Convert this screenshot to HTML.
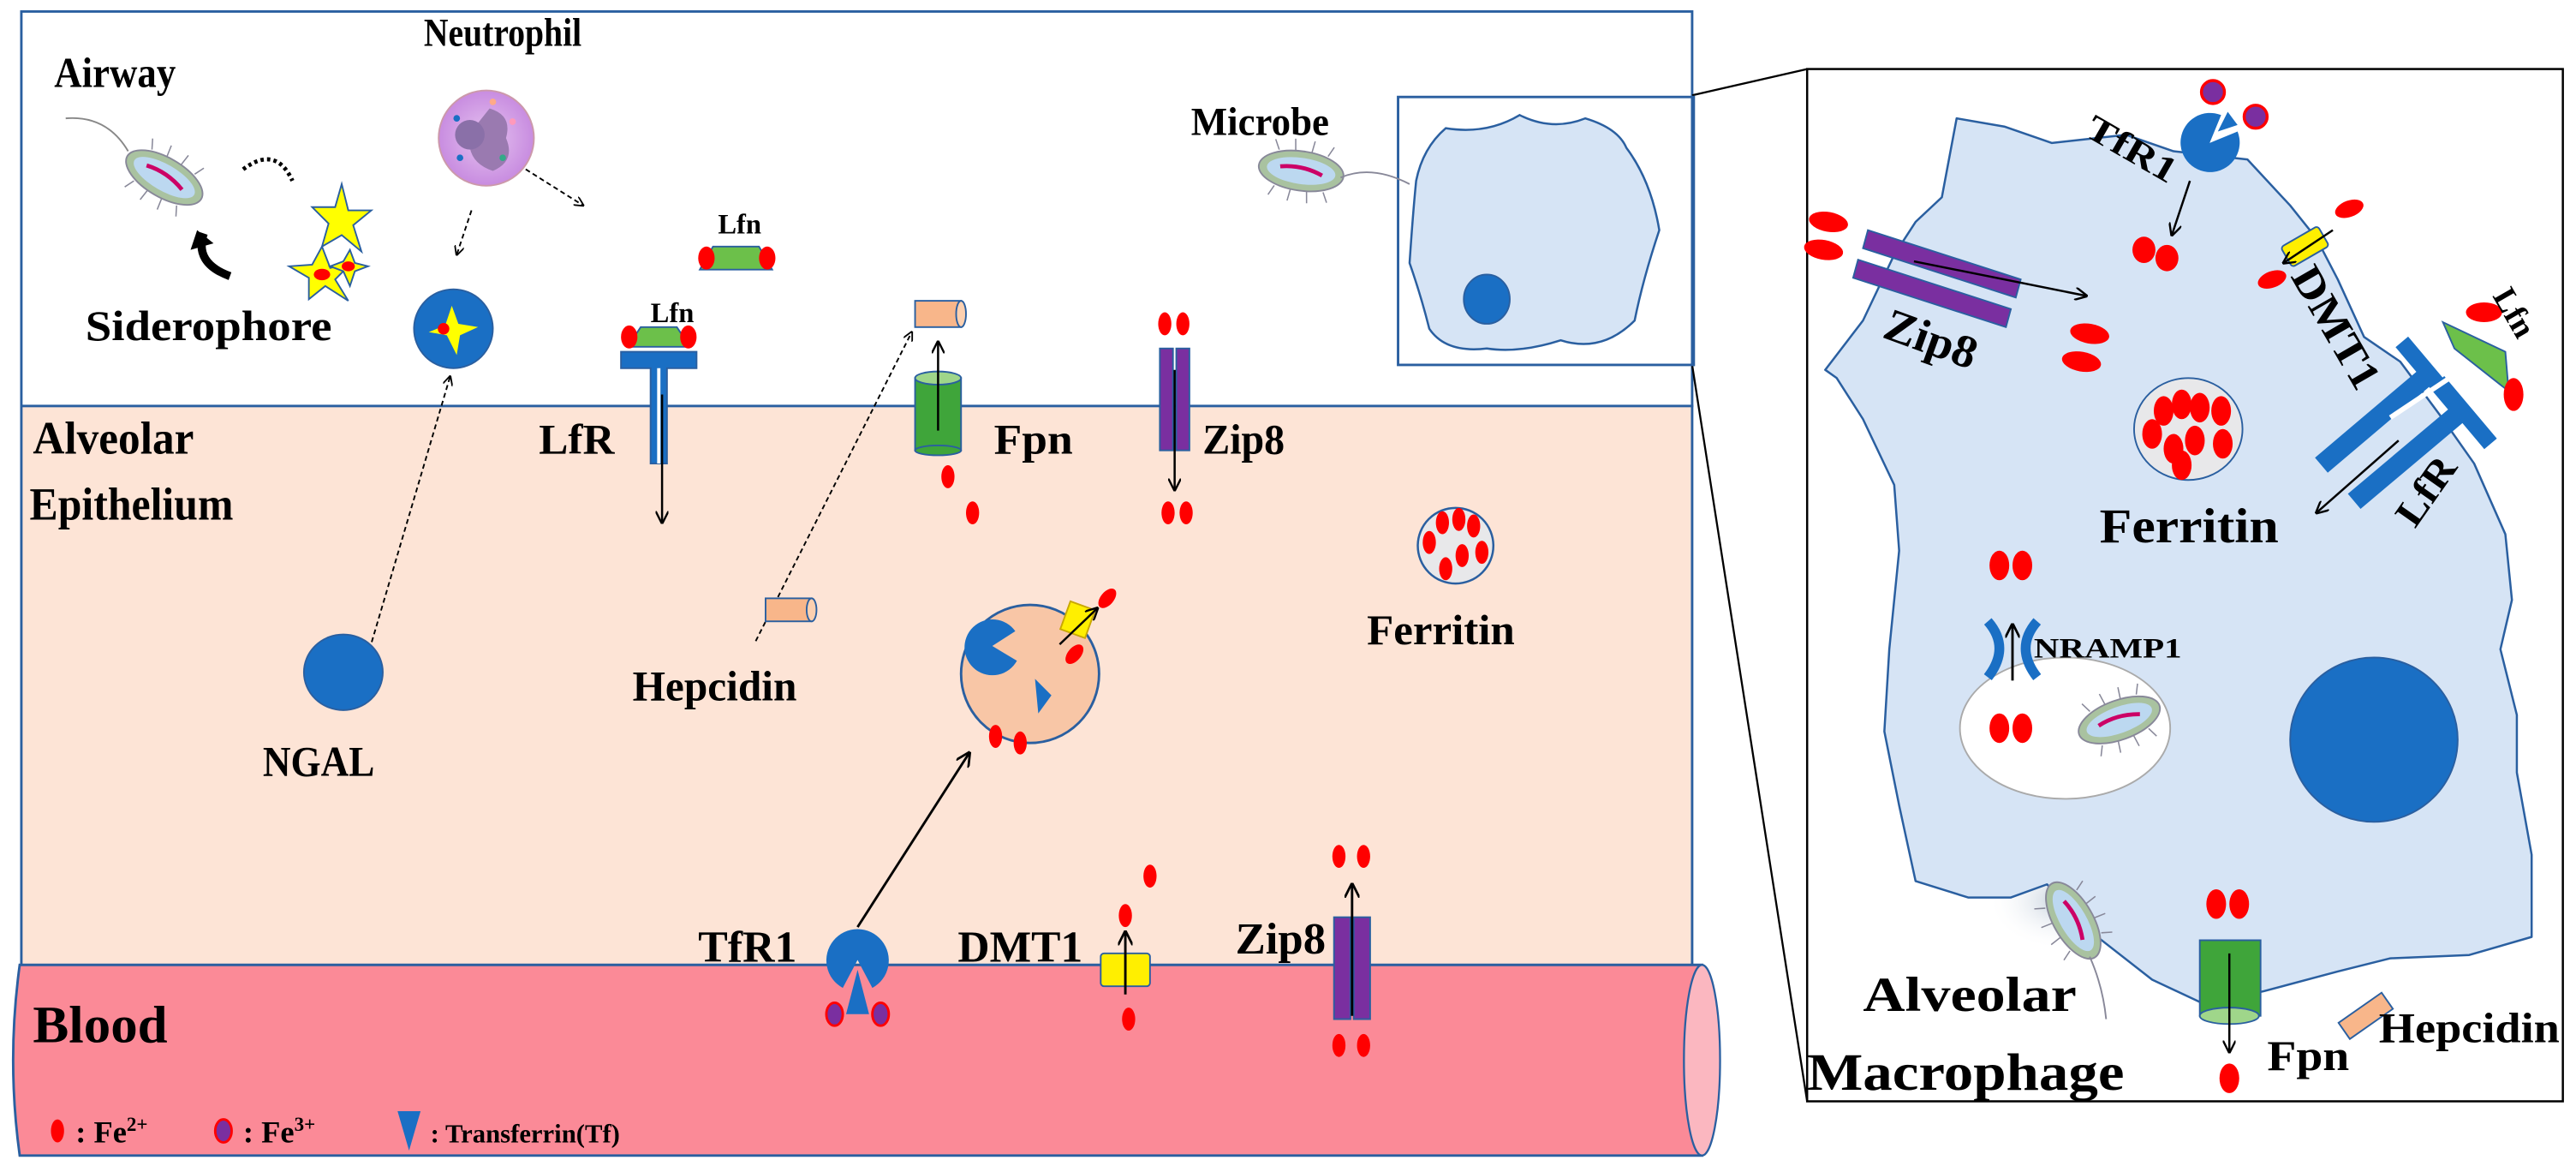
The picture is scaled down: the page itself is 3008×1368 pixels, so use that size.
<!DOCTYPE html>
<html><head><meta charset="utf-8"><style>
html,body{margin:0;padding:0;background:#fff;}
svg{display:block;}
text{font-family:"Liberation Serif",serif;font-weight:bold;fill:#000;}
</style></head><body>
<svg width="3008" height="1368" viewBox="0 0 1568 713" preserveAspectRatio="none" xmlns="http://www.w3.org/2000/svg">
<defs>
<marker id="ah" viewBox="0 0 10 10" refX="9" refY="5" markerWidth="6" markerHeight="6" orient="auto"><path d="M0,0 L10,5 L0,10" fill="none" stroke="#000" stroke-width="1.6"/></marker>
<g id="fe"><ellipse cx="0" cy="0" rx="4" ry="7" fill="#f00"/></g>
<g id="feb"><ellipse cx="0" cy="0" rx="6" ry="9" fill="#f00"/></g>
<g id="fe3"><ellipse cx="0" cy="0" rx="5" ry="7" fill="#7a2fa0" stroke="#f00" stroke-width="1.5"/></g>
<g id="bac"><ellipse cx="0" cy="0" rx="26" ry="12" fill="#a9c2a0" stroke="#889" stroke-width="1"/><ellipse cx="0" cy="0" rx="21" ry="8" fill="#bcd8f0"/><path d="M-13,-1 Q0,-4 13,1" stroke="#c06" stroke-width="2.5" fill="none"/>
<path d="M-15,-11 l-3,-6 M-5,-12 l-1,-7 M5,-12 l1,-7 M15,-11 l3,-6 M-15,11 l-3,6 M-5,12 l-1,7 M5,12 l1,7 M15,11 l3,6" stroke="#889" stroke-width="0.8"/></g>
<radialGradient id="neu" cx="0.5" cy="0.5" r="0.5"><stop offset="0" stop-color="#e6c4f0"/><stop offset="1" stop-color="#c88ce0"/></radialGradient>
<radialGradient id="shade" cx="0.5" cy="0.5" r="0.5"><stop offset="0" stop-color="#c4cfdc"/><stop offset="1" stop-color="#fff" stop-opacity="0"/></radialGradient>
</defs>
<rect x="13" y="7" width="1017" height="240" fill="#fff" stroke="#2a5fa0" stroke-width="1.5"/>
<rect x="13" y="247" width="1017" height="345" fill="#fde4d6" stroke="#2a5fa0" stroke-width="1.5"/>
<path d="M12,587 L1036,587 L1036,703 L12,703 Q4,645 12,587Z" fill="#fb8a97" stroke="#2a5fa0" stroke-width="1.5"/>
<ellipse cx="1036" cy="645" rx="11" ry="58" fill="#fbb7c0" stroke="#2a5fa0" stroke-width="1.2"/>

<line x1="1030" y1="58" x2="1100" y2="42" stroke="#000" stroke-width="1.2"/>
<line x1="1030" y1="222" x2="1100" y2="670" stroke="#000" stroke-width="1.2"/>
<rect x="851" y="59" width="180" height="163" fill="none" stroke="#2a5fa0" stroke-width="1.5"/>
<path d="M880,78 Q905,82 925,70 Q945,80 965,72 Q985,78 990,90 Q1005,110 1010,140 Q1000,170 995,195 Q975,215 950,207 Q925,215 905,212 Q880,215 870,200 Q865,180 858,160 Q860,130 862,110 Q866,90 880,78Z" fill="#d6e4f5" stroke="#2a5fa0" stroke-width="1.3"/>
<ellipse cx="905" cy="182" rx="14" ry="15" fill="#1a6fc4" stroke="#2a5fa0"/>
<use href="#bac" x="792" y="104" transform="rotate(8 792 104)"/>
<path d="M816,108 Q835,100 858,112" stroke="#889" fill="none"/>
<text x="725" y="82" font-size="24" textLength="84" lengthAdjust="spacingAndGlyphs">Microbe</text>

<text x="33" y="53" font-size="26" textLength="74" lengthAdjust="spacingAndGlyphs">Airway</text>
<use href="#bac" x="100" y="108" transform="rotate(30 100 108)"/>
<path d="M78,92 Q65,70 40,72" stroke="#888" fill="none"/>
<path d="M148,103 Q168,88 178,110" stroke="#000" stroke-dasharray="2,2" fill="none" stroke-width="2.5"/>
<path d="M140,168 Q118,160 124,142" stroke="#000" fill="none" stroke-width="5"/>
<polygon points="120,140 130,148 116,152" fill="#000"/>
<polygon points="208,112 212,128 226,128 215,137 220,153 208,143 196,150 200,136 190,126 204,126" fill="#ff0" stroke="#2a5fa0"/>
<polygon points="196,150 201,163 214,160 204,170 212,183 198,174 188,182 188,169 176,162 190,161" fill="#ff0" stroke="#2a5fa0"/>
<ellipse cx="196" cy="167" rx="5" ry="3.5" fill="#f00"/>
<polygon points="213,152 216,160 224,162 216,165 213,174 209,165 201,162 209,159" fill="#ff0" stroke="#2a5fa0"/>
<ellipse cx="212" cy="162" rx="4" ry="3" fill="#f00"/>
<text x="52" y="207" font-size="26" textLength="150" lengthAdjust="spacingAndGlyphs">Siderophore</text>
<text x="258" y="28" font-size="24" textLength="96" lengthAdjust="spacingAndGlyphs">Neutrophil</text>
<circle cx="296" cy="84" r="29" fill="url(#neu)" stroke="#c9a"/>
<path d="M298,66 Q312,70 308,84 Q314,98 300,104 Q288,100 286,90 Q280,80 290,76Z" fill="#9a7ab0"/>
<circle cx="286" cy="82" r="9" fill="#8a70a8"/>
<circle cx="278" cy="72" r="2" fill="#1a6fc4"/><circle cx="306" cy="96" r="2" fill="#3a8"/><circle cx="312" cy="74" r="2" fill="#f9b"/><circle cx="280" cy="96" r="2" fill="#1a6fc4"/><circle cx="300" cy="62" r="2" fill="#fa8"/>
<line x1="320" y1="103" x2="355" y2="125" stroke="#000" stroke-dasharray="3,2" marker-end="url(#ah)"/>
<line x1="287" y1="128" x2="278" y2="155" stroke="#000" stroke-dasharray="3,2" marker-end="url(#ah)"/>
<text x="437" y="142" font-size="17">Lfn</text>
<path d="M434,150 L462,150 L470,164 L426,164Z" fill="#6cc04a" stroke="#2a5fa0"/>
<ellipse cx="430" cy="157" rx="5" ry="7" fill="#f00"/><ellipse cx="467" cy="157" rx="5" ry="7" fill="#f00"/>
<circle cx="276" cy="200" r="24" fill="#1a6fc4" stroke="#2a5fa0"/>
<polygon points="275,186 279,197 291,199 280,204 278,216 272,204 261,202 271,198" fill="#ff0"/>
<circle cx="270" cy="200" r="3.5" fill="#f00"/>
<text x="396" y="196" font-size="17">Lfn</text>
<path d="M390,199 L412,199 L420,211 L382,211Z" fill="#6cc04a" stroke="#2a5fa0"/>
<ellipse cx="383" cy="205" rx="5" ry="7" fill="#f00"/><ellipse cx="419" cy="205" rx="5" ry="7" fill="#f00"/>
<path d="M378,214 L424,214 L424,224 L406,224 L406,282 L396,282 L396,224 L378,224Z" fill="#1a6fc4" stroke="#2a5fa0"/>
<line x1="401" y1="224" x2="401" y2="282" stroke="#fff" stroke-width="2"/>
<line x1="403" y1="240" x2="403" y2="318" stroke="#000" stroke-width="1.3" marker-end="url(#ah)"/>
<text x="328" y="276" font-size="26" textLength="46" lengthAdjust="spacingAndGlyphs">LfR</text>
<text x="20" y="276" font-size="28" textLength="98" lengthAdjust="spacingAndGlyphs">Alveolar</text>
<text x="18" y="316" font-size="28" textLength="124" lengthAdjust="spacingAndGlyphs">Epithelium</text>
<rect x="557" y="183" width="28" height="16" fill="#f8b68a" stroke="#2a5fa0"/>
<ellipse cx="585" cy="191" rx="3" ry="8" fill="#fcd0b0" stroke="#2a5fa0"/>
<rect x="557" y="230" width="28" height="44" fill="#3fa53a" stroke="#2a5fa0"/>
<ellipse cx="571" cy="230" rx="14" ry="4" fill="#9fd68a" stroke="#2a5fa0"/>
<ellipse cx="571" cy="274" rx="14" ry="3" fill="#3fa53a" stroke="#2a5fa0"/>
<line x1="571" y1="262" x2="571" y2="208" stroke="#000" stroke-width="1.3" marker-end="url(#ah)"/>
<text x="605" y="276" font-size="26" textLength="48" lengthAdjust="spacingAndGlyphs">Fpn</text>
<use href="#fe" x="577" y="290"/><use href="#fe" x="592" y="312"/>
<line x1="460" y1="390" x2="555" y2="202" stroke="#000" stroke-dasharray="3,2" marker-end="url(#ah)"/>
<line x1="222" y1="405" x2="274" y2="229" stroke="#000" stroke-dasharray="3,2" marker-end="url(#ah)"/>
<use href="#fe" x="709" y="197"/><use href="#fe" x="720" y="197"/>
<rect x="706" y="212" width="8" height="62" fill="#7a2fa0" stroke="#2a5fa0"/>
<rect x="716" y="212" width="8" height="62" fill="#7a2fa0" stroke="#2a5fa0"/>
<line x1="715" y1="225" x2="715" y2="298" stroke="#000" stroke-width="1.3" marker-end="url(#ah)"/>
<text x="732" y="276" font-size="26" textLength="50" lengthAdjust="spacingAndGlyphs">Zip8</text>
<use href="#fe" x="711" y="312"/><use href="#fe" x="722" y="312"/>
<circle cx="886" cy="332" r="23" fill="#e8e8ea" stroke="#2a5fa0" stroke-width="1.3"/>
<use href="#fe" x="878" y="318"/><use href="#fe" x="888" y="316"/><use href="#fe" x="897" y="320"/><use href="#fe" x="870" y="330"/><use href="#fe" x="890" y="338"/><use href="#fe" x="902" y="336"/><use href="#fe" x="880" y="346"/>
<text x="832" y="392" font-size="26" textLength="90" lengthAdjust="spacingAndGlyphs">Ferritin</text>
<rect x="466" y="364" width="28" height="14" fill="#f8b68a" stroke="#2a5fa0"/>
<ellipse cx="494" cy="371" rx="3" ry="7" fill="#fcd0b0" stroke="#2a5fa0"/>
<text x="385" y="426" font-size="26" textLength="100" lengthAdjust="spacingAndGlyphs">Hepcidin</text>
<ellipse cx="209" cy="409" rx="24" ry="23" fill="#1a6fc4" stroke="#2a5fa0"/>
<text x="160" y="472" font-size="26" textLength="68" lengthAdjust="spacingAndGlyphs">NGAL</text>
<circle cx="627" cy="410" r="42" fill="#f8c6a6" stroke="#2a5fa0" stroke-width="1.5"/>
<path d="M604,393 L618,384 A17,17 0 1 0 619,402 Z" fill="#1a6fc4"/>
<polygon points="630,413 640,423 632,434" fill="#1a6fc4"/>
<rect x="648" y="368" width="16" height="18" fill="#ffef00" stroke="#c9a800" transform="rotate(20 656 377)"/>
<line x1="645" y1="392" x2="668" y2="370" stroke="#000" stroke-width="1.3" marker-end="url(#ah)"/>
<ellipse cx="674" cy="364" rx="4" ry="7" fill="#f00" transform="rotate(40 674 364)"/>
<ellipse cx="654" cy="398" rx="4" ry="7" fill="#f00" transform="rotate(40 654 398)"/>
<use href="#fe" x="606" y="448"/><use href="#fe" x="621" y="452"/>
<!-- bottom transporters -->
<line x1="522" y1="564" x2="590" y2="458" stroke="#000" stroke-width="1.5" marker-end="url(#ah)"/>
<text x="425" y="585" font-size="27" textLength="60" lengthAdjust="spacingAndGlyphs">TfR1</text>
<path d="M522,584 L531,601 A19,19 0 1 0 513,601 Z" fill="#1a6fc4"/>
<polygon points="522,590 529,617 515,617" fill="#1a6fc4"/>
<use href="#fe3" x="508" y="617"/><use href="#fe3" x="536" y="617"/>
<text x="583" y="585" font-size="27" textLength="76" lengthAdjust="spacingAndGlyphs">DMT1</text>
<rect x="670" y="580" width="30" height="20" rx="2" fill="#ffef00" stroke="#2a5fa0"/>
<line x1="685" y1="605" x2="685" y2="567" stroke="#000" stroke-width="1.5" marker-end="url(#ah)"/>
<use href="#fe" x="700" y="533"/><use href="#fe" x="685" y="557"/><use href="#fe" x="687" y="620"/>
<text x="752" y="580" font-size="27" textLength="55" lengthAdjust="spacingAndGlyphs">Zip8</text>
<rect x="812" y="558" width="10" height="62" fill="#7a2fa0" stroke="#2a5fa0"/>
<rect x="824" y="558" width="10" height="62" fill="#7a2fa0" stroke="#2a5fa0"/>
<line x1="823" y1="618" x2="823" y2="538" stroke="#000" stroke-width="1.5" marker-end="url(#ah)"/>
<use href="#fe" x="815" y="521"/><use href="#fe" x="830" y="521"/><use href="#fe" x="815" y="636"/><use href="#fe" x="830" y="636"/>
<text x="20" y="634" font-size="32" textLength="82" lengthAdjust="spacingAndGlyphs">Blood</text>
<use href="#fe" x="35" y="688"/><text x="46" y="695" font-size="19">: Fe<tspan font-size="12" dy="-7">2+</tspan></text>
<use href="#fe3" x="136" y="688"/><text x="148" y="695" font-size="19">: Fe<tspan font-size="12" dy="-7">3+</tspan></text>
<polygon points="242,676 256,676 249,700" fill="#1a6fc4"/><text x="262" y="695" font-size="16">: Transferrin(Tf)</text>

<!-- right panel -->
<rect x="1100" y="42" width="460" height="628" fill="#fff" stroke="#000" stroke-width="1.3"/>
<ellipse cx="1255" cy="548" rx="45" ry="30" fill="url(#shade)"/>
<path d="M1191,72 L1220,77 L1249,87 L1294,82 L1323,92 L1368,97 L1394,125 L1410,145 L1423,170 L1439,205 L1461,220 L1487,255 L1506,282 L1525,325 L1529,365 L1522,395 L1532,435 L1532,470 L1541,520 L1541,570 L1503,581 L1455,583 L1423,591 L1378,603 L1342,611 L1310,596 L1278,571 L1246,538 L1224,546 L1198,546 L1166,536 L1156,490 L1147,445 L1150,395 L1156,335 L1153,295 L1134,255 L1118,230 L1111,225 L1134,195 L1153,155 L1166,135 L1182,120 Z" fill="#d6e4f5" stroke="#2a5fa0" stroke-width="1.3" stroke-linejoin="round"/>
<path d="M1345,87 L1362,80 A18,18 0 1 1 1352,70 Z" fill="#1a6fc4"/>
<polygon points="1350,80 1356,68 1362,76" fill="#1a6fc4"/>
<circle cx="1347" cy="56" r="7" fill="#7a2fa0" stroke="#f00" stroke-width="1.8"/>
<circle cx="1373" cy="71" r="7" fill="#7a2fa0" stroke="#f00" stroke-width="1.8"/>
<text x="1268" y="82" font-size="22" textLength="60" lengthAdjust="spacingAndGlyphs" transform="rotate(30 1268 82)">TfR1</text>
<line x1="1333" y1="110" x2="1322" y2="143" stroke="#000" stroke-width="1.3" marker-end="url(#ah)"/>
<ellipse cx="1305" cy="152" rx="7" ry="8" fill="#f00"/><ellipse cx="1319" cy="157" rx="7" ry="8" fill="#f00"/>
<polygon points="1137,140 1230,170 1227,181 1134,151" fill="#7a2fa0" stroke="#2a5fa0"/>
<polygon points="1131,158 1224,188 1221,199 1128,169" fill="#7a2fa0" stroke="#2a5fa0"/>
<line x1="1165" y1="159" x2="1270" y2="180" stroke="#000" stroke-width="1.3" marker-end="url(#ah)"/>
<ellipse cx="1113" cy="135" rx="12" ry="6" fill="#f00" transform="rotate(10 1113 135)"/><ellipse cx="1110" cy="152" rx="12" ry="6" fill="#f00" transform="rotate(10 1110 152)"/>
<ellipse cx="1272" cy="203" rx="12" ry="6" fill="#f00" transform="rotate(10 1272 203)"/><ellipse cx="1267" cy="220" rx="12" ry="6" fill="#f00" transform="rotate(10 1267 220)"/>
<text x="1145" y="205" font-size="28" textLength="58" lengthAdjust="spacingAndGlyphs" transform="rotate(20 1145 205)">Zip8</text>
<rect x="1390" y="143" width="26" height="14" rx="2" fill="#ffef00" stroke="#2a5fa0" transform="rotate(-30 1403 150)"/>
<line x1="1420" y1="140" x2="1390" y2="160" stroke="#000" stroke-width="1.3" marker-end="url(#ah)"/>
<ellipse cx="1430" cy="127" rx="9" ry="5" fill="#f00" transform="rotate(-20 1430 127)"/>
<ellipse cx="1383" cy="170" rx="9" ry="5" fill="#f00" transform="rotate(-20 1383 170)"/>
<text x="1394" y="168" font-size="26" textLength="82" lengthAdjust="spacingAndGlyphs" transform="rotate(60 1394 168)">DMT1</text>
<line x1="1413" y1="283" x2="1478" y2="228" stroke="#1a6fc4" stroke-width="12"/>
<line x1="1462" y1="208" x2="1494" y2="246" stroke="#1a6fc4" stroke-width="10"/>
<line x1="1433" y1="305" x2="1496" y2="252" stroke="#1a6fc4" stroke-width="12"/>
<line x1="1484" y1="232" x2="1516" y2="270" stroke="#1a6fc4" stroke-width="10"/>
<line x1="1455" y1="254" x2="1497" y2="226" stroke="#fff" stroke-width="3"/>
<polygon points="1487,196 1525,214 1527,238 1494,212" fill="#6cc04a" stroke="#2a5fa0"/>
<ellipse cx="1512" cy="190" rx="11" ry="6" fill="#f00"/><ellipse cx="1530" cy="240" rx="6" ry="10" fill="#f00"/>
<text x="1517" y="180" font-size="20" transform="rotate(60 1517 180)">Lfn</text>
<line x1="1460" y1="268" x2="1410" y2="312" stroke="#000" stroke-width="1.3" marker-end="url(#ah)"/>
<text x="1470" y="322" font-size="24" textLength="46" lengthAdjust="spacingAndGlyphs" transform="rotate(-55 1470 322)">LfR</text>
<ellipse cx="1332" cy="261" rx="33" ry="31" fill="#e8e8ea" stroke="#2a5fa0"/>
<use href="#feb" x="1317" y="250"/><use href="#feb" x="1328" y="246"/><use href="#feb" x="1339" y="248"/><use href="#feb" x="1352" y="250"/><use href="#feb" x="1310" y="264"/><use href="#feb" x="1323" y="273"/><use href="#feb" x="1336" y="268"/><use href="#feb" x="1353" y="270"/><use href="#feb" x="1328" y="283"/>
<text x="1278" y="330" font-size="30" textLength="109" lengthAdjust="spacingAndGlyphs">Ferritin</text>
<ellipse cx="1257" cy="443" rx="64" ry="43" fill="#fff" stroke="#aaa"/>
<use href="#bac" x="1290" y="438" transform="rotate(-20 1290 438)"/>
<path d="M1210,378 Q1224,394 1210,412" stroke="#1a6fc4" stroke-width="6" fill="none"/>
<path d="M1240,378 Q1226,394 1240,412" stroke="#1a6fc4" stroke-width="6" fill="none"/>
<line x1="1225" y1="414" x2="1225" y2="380" stroke="#000" stroke-width="1.5" marker-end="url(#ah)"/>
<use href="#feb" x="1217" y="344"/><use href="#feb" x="1231" y="344"/><use href="#feb" x="1217" y="443"/><use href="#feb" x="1231" y="443"/>
<text x="1238" y="400" font-size="17" textLength="90" lengthAdjust="spacingAndGlyphs">NRAMP1</text>
<ellipse cx="1445" cy="450" rx="51" ry="50" fill="#1a6fc4" stroke="#2a5fa0"/>
<use href="#bac" x="1262" y="560" transform="rotate(60 1262 560)"/>
<path d="M1272,582 Q1280,600 1282,620" stroke="#889" fill="none"/>
<text x="1134" y="615" font-size="30" textLength="130" lengthAdjust="spacingAndGlyphs">Alveolar</text>
<text x="1100" y="663" font-size="32" textLength="193" lengthAdjust="spacingAndGlyphs">Macrophage</text>
<use href="#feb" x="1349" y="550"/><use href="#feb" x="1363" y="550"/>
<rect x="1339" y="572" width="37" height="46" fill="#3fa53a" stroke="#2a5fa0"/>
<ellipse cx="1357" cy="618" rx="18" ry="5" fill="#9fd68a" stroke="#2a5fa0"/>
<line x1="1357" y1="580" x2="1357" y2="640" stroke="#000" stroke-width="1.3" marker-end="url(#ah)"/>
<use href="#feb" x="1357" y="656"/>
<text x="1380" y="651" font-size="26" textLength="50" lengthAdjust="spacingAndGlyphs">Fpn</text>
<rect x="1424" y="612" width="32" height="12" fill="#f8b68a" stroke="#2a5fa0" transform="rotate(-35 1440 618)"/>
<text x="1448" y="634" font-size="26" textLength="110" lengthAdjust="spacingAndGlyphs">Hepcidin</text>
</svg>
</body></html>
